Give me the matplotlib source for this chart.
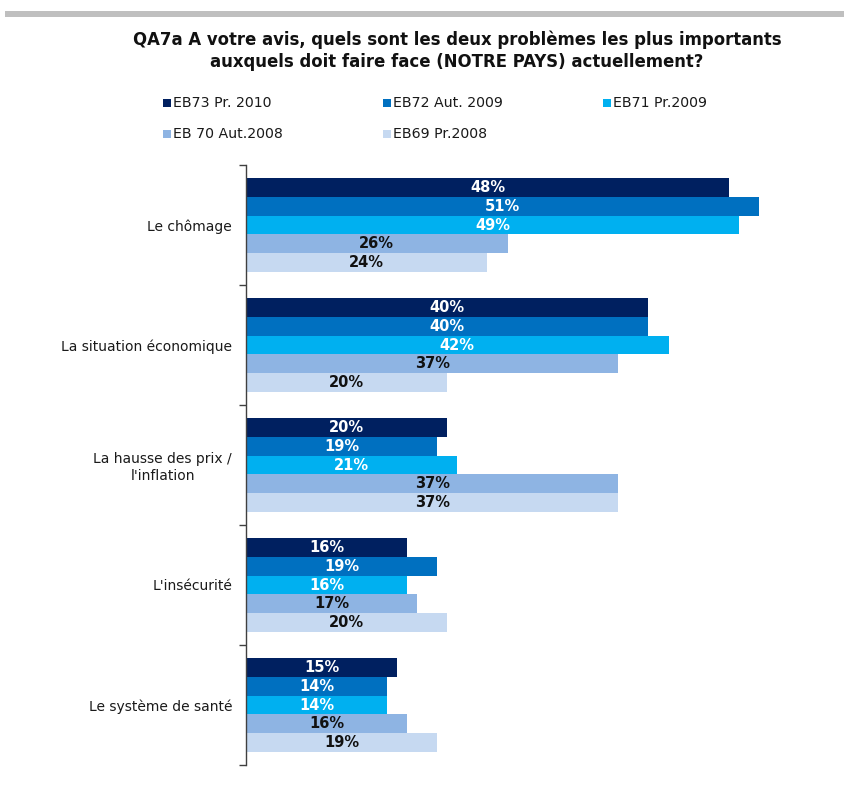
import matplotlib
matplotlib.use("Agg")
import matplotlib.pyplot as plt
from matplotlib.patches import Rectangle
import numpy as np

categories = ["Le chômage", "La situation économique", "La hausse des prix /\nl'inflation",
              "L'insécurité", "Le système de santé"]
series_names = ["EB73 Pr. 2010", "EB72 Aut. 2009", "EB71 Pr.2009", "EB 70 Aut.2008", "EB69 Pr.2008"]
eb73 = [48, 40, 20, 16, 15]
eb72 = [51, 40, 19, 19, 14]
eb71 = [49, 42, 21, 16, 14]
eb70 = [26, 37, 37, 17, 16]
eb69 = [24, 20, 37, 20, 19]
series = [eb73, eb72, eb71, eb70, eb69]
colors = ["#002060", "#0070C0", "#00B0F0", "#8EB4E3", "#C6D9F1"]
label_colors = ["white", "white", "white", "#111111", "#111111"]

W, H = 845, 794
fig = plt.figure(figsize=(W / 100, H / 100), dpi=100)
fig.patch.set_facecolor("white")

# grey top band
fig.patches.append(Rectangle((5 / W, 1 - 17 / H), (W - 5) / W, 6 / H,
                             transform=fig.transFigure, facecolor="#BFBFBF", edgecolor="none"))

fig.text(457 / W, 1 - 40 / H, "QA7a A votre avis, quels sont les deux problèmes les plus importants",
         ha="center", va="center", fontsize=11.9, fontweight="bold", color="#111111")
fig.text(457 / W, 1 - 62 / H, "auxquels doit faire face (NOTRE PAYS) actuellement?",
         ha="center", va="center", fontsize=11.9, fontweight="bold", color="#111111")

# legend (manual layout)
leg_pos = [(163, 103), (383, 103), (603, 103), (163, 134), (383, 134)]
for (lx, ly), name, c in zip(leg_pos, series_names, colors):
    fig.patches.append(Rectangle((lx / W, 1 - (ly + 4) / H), 8 / W, 8 / H,
                                 transform=fig.transFigure, facecolor=c, edgecolor="none"))
    fig.text((lx + 10) / W, 1 - ly / H, name, ha="left", va="center", fontsize=10.2, color="#1a1a1a")

ax = fig.add_axes([246 / W, 1 - 765 / H, (800 - 246) / W, (765 - 165) / H])
n = len(categories)
bar_h = 0.158
offsets = (np.arange(5) - 2) * bar_h
ypos = np.arange(n)
for i, (vals, c, lc) in enumerate(zip(series, colors, label_colors)):
    bars = ax.barh(ypos + offsets[i], vals, height=bar_h, color=c, edgecolor="none")
    for b, v in zip(bars, vals):
        ax.text(v / 2, b.get_y() + b.get_height() / 2, f"{v}%", ha="center", va="center",
                fontsize=10.5, fontweight="bold", color=lc)

ax.set_ylim(n - 0.5, -0.5)
ax.set_xlim(0, (800 - 246) / 10.06)
ax.set_yticks(ypos)
ax.set_yticklabels(categories, fontsize=10, color="#1a1a1a", multialignment="center")
ax.tick_params(axis="y", which="major", length=0, pad=10)
ax.set_yticks(np.arange(n + 1) - 0.5, minor=True)
ax.tick_params(axis="y", which="minor", length=5, width=1, color="#404040")
ax.set_xticks([])
for s in ["top", "right", "bottom"]:
    ax.spines[s].set_visible(False)
ax.spines["left"].set_color("#404040")
ax.spines["left"].set_linewidth(1)

fig.savefig("out.png", dpi=100, facecolor="white")
